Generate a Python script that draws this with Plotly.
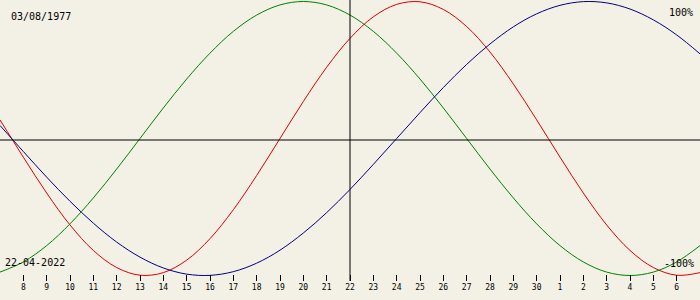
import plotly.graph_objects as go

days = list(range(7, 38))
physical = [13.6, -13.6, -39.8, -63.1, -81.7, -94.2, -99.8, -97.9, -88.8, -73.1,
            -52.0, -27.0, 0.0, 27.0, 52.0, 73.1, 88.8, 97.9, 99.8, 94.2,
            81.7, 63.1, 39.8, 13.6, -13.6, -39.8, -63.1, -81.7, -94.2, -99.8, -97.9]
emotional = [-97.5, -90.1, -78.2, -62.3, -43.4, -22.3, 0.0, 22.3, 43.4, 62.3,
             78.2, 90.1, 97.5, 100.0, 97.5, 90.1, 78.2, 62.3, 43.4, 22.3,
             0.0, -22.3, -43.4, -62.3, -78.2, -90.1, -97.5, -100.0, -97.5, -90.1, -78.2]
intellectual = [9.5, -9.5, -28.2, -45.8, -61.8, -75.6, -86.6, -94.5, -99.0, -99.9,
                -97.2, -91.0, -81.5, -69.0, -54.1, -37.2, -18.9, 0.0, 18.9, 37.2,
                54.1, 69.0, 81.5, 91.0, 97.2, 99.9, 99.0, 94.5, 86.6, 75.6, 61.8]

tick_days = list(range(8, 37))
tick_labels = ["8", "9", "10", "11", "12", "13", "14", "15", "16", "17", "18", "19",
               "20", "21", "22", "23", "24", "25", "26", "27", "28", "29", "30",
               "1", "2", "3", "4", "5", "6"]

birth_label = "03/08/1977"
date_label = "22-04-2022"
today = 22

BG = "#F3F0E5"
W, H, PB = 700, 300, 19
PLOT_H = H - PB

fig = go.Figure()
for vals, col in [(physical, "#E00000"), (emotional, "#008000"), (intellectual, "#000080")]:
    fig.add_trace(go.Scatter(x=days, y=vals, mode="lines",
                             line=dict(color=col, width=1, shape="spline", smoothing=1.0),
                             hoverinfo="skip", showlegend=False))

# axes lines
fig.add_shape(type="line", xref="x", yref="paper", x0=today, x1=today, y0=0, y1=1,
              line=dict(color="black", width=1))
fig.add_shape(type="line", xref="paper", yref="paper", x0=0, x1=1,
              y0=1 - 140 / PLOT_H, y1=1 - 140 / PLOT_H,
              line=dict(color="black", width=1))

mono = "DejaVu Sans Mono"
def ann(text, x, y, xanchor):
    fig.add_annotation(text=text, xref="paper", yref="paper", x=x / W, y=1 - y / PLOT_H,
                       xanchor=xanchor, yanchor="middle", showarrow=False,
                       font=dict(family=mono, size=10, color="black"), borderpad=0)

ann(birth_label, 10, 16, "left")
ann(date_label, 4, 262, "left")
ann("100%", 694, 13, "right")
ann("-100%", 695, 263, "right")

px_per = 1.37
ymax = 100 + 1.5 / px_per
ymin = ymax - PLOT_H / px_per

fig.update_layout(
    width=W, height=H,
    margin=dict(l=0, r=0, t=0, b=PB),
    paper_bgcolor=BG, plot_bgcolor=BG,
    xaxis=dict(range=[7, 37], tickmode="array", tickvals=tick_days, ticktext=tick_labels,
               ticks="inside", ticklen=6, tickwidth=1, tickcolor="black",
               showgrid=False, zeroline=False, showline=False,
               tickfont=dict(family=mono, size=8, color="black"), fixedrange=True),
    yaxis=dict(range=[ymin, ymax], visible=False, showgrid=False, zeroline=False,
               fixedrange=True),
)

fig.write_html("out.html")
